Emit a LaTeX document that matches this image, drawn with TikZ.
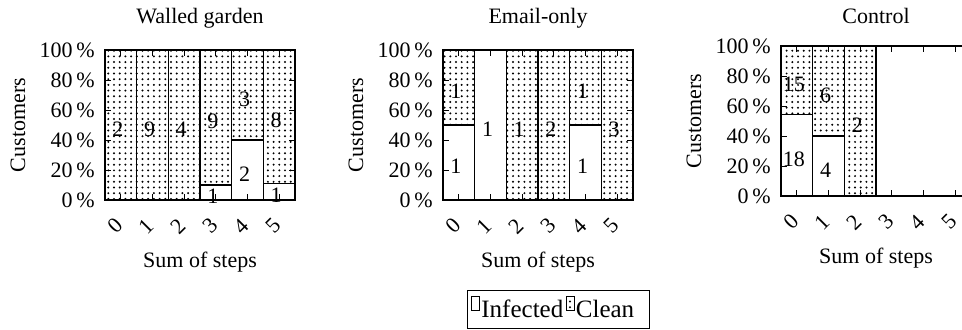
\documentclass[tikz,border=0pt]{standalone}
\usepackage{fontspec}
\setmainfont{Liberation Serif}
\usetikzlibrary{patterns,positioning}

\pgfdeclarepatternformonly{bardots}{\pgfqpoint{-1pt}{-1pt}}{\pgfqpoint{1pt}{1pt}}{\pgfqpoint{2.85pt}{2.85pt}}{%
  \pgfpathcircle{\pgfqpoint{0pt}{0pt}}{0.55pt}\pgfusepath{fill}}

\tikzset{
  frameline/.style={line width=0.55pt},
  tickline/.style={line width=0.4pt},
  cleanbar/.style={frameline, draw=black, pattern=bardots},
  infectedbar/.style={frameline, draw=black, fill=white},
  countnode/.style={inner sep=0pt, xshift=-1.5pt, yshift=-2pt},
  ticknode/.style={inner sep=0pt},
  legicon/.style={draw=black, line width=0.4pt, minimum width=4pt, minimum height=7pt, inner sep=0pt},
  legtext/.style={inner sep=0pt, font=\fontsize{12.5}{15}\selectfont},
}

\newcommand\stackpanel[3]{% origin, prefix, bars
  \begin{scope}[shift={#1}]
    \foreach \bi/\ninf/\ncln in {#3} {
      \pgfmathsetmacro\xl{\bi*190/6}
      \pgfmathsetmacro\xr{(\bi+1)*190/6}
      \pgfmathsetmacro\xm{(\bi+0.5)*190/6}
      \pgfmathsetmacro\hinf{150*\ninf/(\ninf+\ncln)}
      \ifnum\ninf>0
        \draw[infectedbar] (\xl,0) rectangle (\xr,\hinf);
        \node[countnode] (#2-inf\bi) at (\xm,\hinf/2) {\ninf};
      \fi
      \ifnum\ncln>0
        \draw[cleanbar] (\xl,\hinf) rectangle (\xr,150);
        \node[countnode] (#2-cln\bi) at (\xm,{(\hinf+150)/2}) {\ncln};
      \fi
    }
    \draw[frameline] (0,0) rectangle (190,150);
    \foreach \bi in {0,...,5} {
      \pgfmathsetmacro\xm{(\bi+0.5)*190/6}
      \draw[tickline] (\xm,0) -- (\xm,6) (\xm,150) -- (\xm,144);
      \node[ticknode, rotate=45] (#2-x\bi) at (\xm-6,-26) {\bi};
    }
    \foreach \p in {0,20,...,100} {
      \draw[tickline] (0,1.5*\p) -- (6,1.5*\p) (190,1.5*\p) -- (184,1.5*\p);
      \node[ticknode, anchor=east] (#2-y\p) at (-10,1.5*\p) {\p\,\%};
    }
    \node[rotate=90] (#2-ylab) at (-87,75) {Customers};
    \node[anchor=base] (#2-xlab) at (95,-68) {Sum of steps};
  \end{scope}}

\begin{document}
\begin{tikzpicture}[x=0.5pt,y=0.5pt,font=\fontsize{11}{13}\selectfont]
\useasboundingbox (0,0) rectangle (962,330);
\clip (0,0) rectangle (962,330);

\stackpanel{(105,130)}{wg}{0/0/2, 1/0/9, 2/0/4, 3/1/9, 4/2/3, 5/1/8}
\stackpanel{(443,130)}{eo}{0/1/1, 1/1/0, 2/0/1, 3/0/2, 4/1/1, 5/0/3}
\stackpanel{(781,134)}{ct}{0/18/15, 1/4/6, 2/0/2}

\node[anchor=base] (wg-title) at (200,306) {Walled garden};
\node[anchor=base] (eo-title) at (538,306) {Email-only};
\node[anchor=base] (ct-title) at (876,306) {Control};

\node[legtext, anchor=base west] (inftxt) at (481,12) {Infected};
\node[legicon, fill=white, above left=3.5pt and 0.5pt of inftxt.base west] (infkey) {};
\node[legicon, pattern=bardots, above right=3.5pt and 1pt of inftxt.base east] (clnkey) {};
\node[legtext, below right=3.5pt and 0.5pt of clnkey.south east, anchor=base west] (clntxt) {Clean};
\node[draw, line width=0.4pt, minimum width=91pt, minimum height=19pt, inner sep=0pt] (legbox) at (558,21) {};
\end{tikzpicture}
\end{document}
